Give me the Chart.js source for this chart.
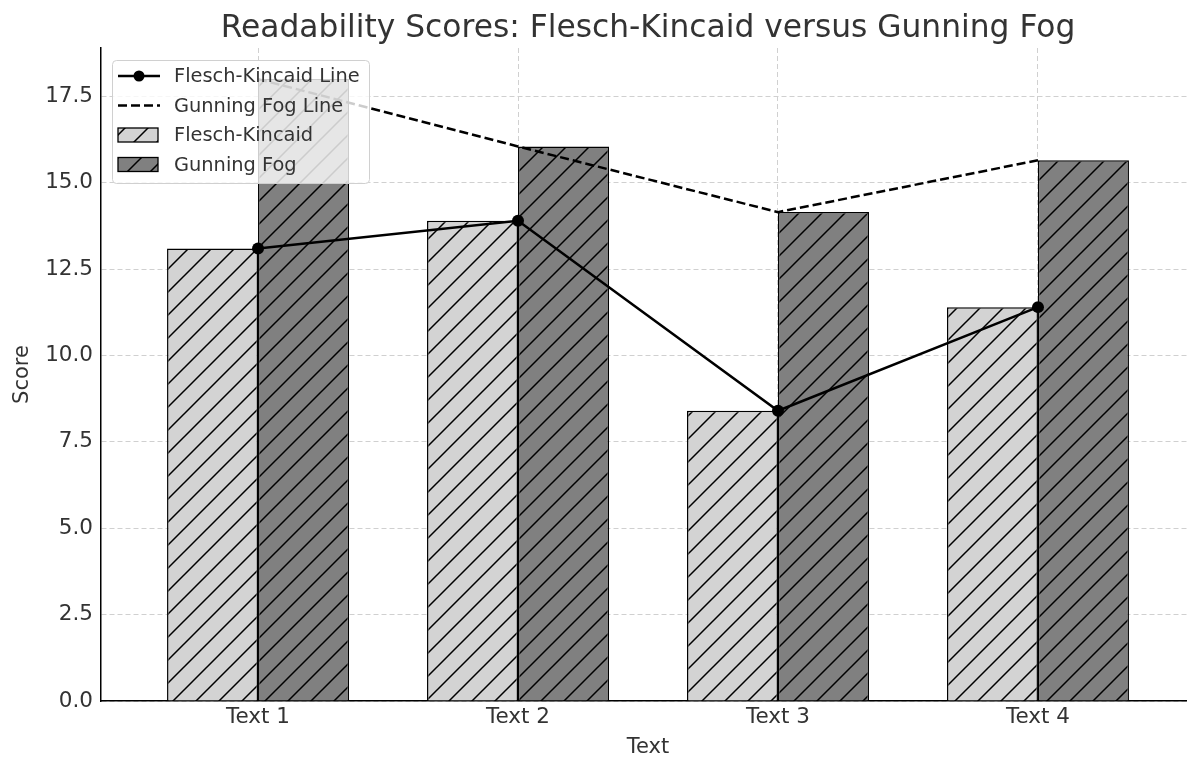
<!DOCTYPE html>
<html>
<head>
<meta charset="utf-8">
<script src="https://cdn.jsdelivr.net/npm/chart.js@4"></script>
<style>
  body { margin: 0; background: #fff; overflow: hidden; }
  canvas { display: block; }
</style>
</head>
<body>
<!-- el lienzo es un poco mas ancho que la ventana: el eje derecho queda recortado como en la figura original -->
<canvas id="grafico" width="1195" height="758"></canvas>
<script>
const textos = ['Text 1', 'Text 2', 'Text 3', 'Text 4'];
const fleschKincaid = [13.1, 13.9, 8.4, 11.4];
const gunningFog = [18.0, 16.05, 14.15, 15.65];
const yTicks = [0, 2.5, 5, 7.5, 10, 12.5, 15, 17.5];

const FONT = 'DejaVu Sans';
const TXT = '#333';
const TITULO = 'Readability Scores: Flesch-Kincaid versus Gunning Fog';

// patron de rayado "/" para las barras
function rayado(fondo) {
  const s = 23;
  const c = document.createElement('canvas');
  c.width = c.height = s;
  const g = c.getContext('2d');
  g.fillStyle = fondo;
  g.fillRect(0, 0, s, s);
  g.strokeStyle = '#000';
  g.lineWidth = 1.5;
  g.beginPath();
  g.moveTo(0, s); g.lineTo(s, 0);
  g.moveTo(-s / 2, s / 2); g.lineTo(s / 2, -s / 2);
  g.moveTo(s / 2, s * 1.5); g.lineTo(s * 1.5, s / 2);
  g.stroke();
  return g.createPattern(c, 'repeat');
}

const ctx = document.getElementById('grafico');
const patFK = rayado('#d3d3d3');
const patGF = rayado('#808080');

const xy = arr => arr.map((v, i) => ({ x: i, y: v }));

// titulo centrado sobre el area de ejes (como matplotlib)
const titulo = {
  id: 'titulo',
  afterDraw(chart) {
    const g = chart.ctx;
    const a = chart.chartArea;
    g.save();
    g.font = '31.3px "' + FONT + '"';
    g.fillStyle = TXT;
    g.textAlign = 'center';
    g.textBaseline = 'alphabetic';
    g.fillText(TITULO, (a.left + a.right) / 2, 37);
    g.restore();
  }
};

// leyenda dentro del area del grafico, arriba a la izquierda
const leyenda = {
  id: 'leyenda',
  afterDraw(chart) {
    const g = chart.ctx;
    const a = chart.chartArea;
    const x0 = a.left + 11, y0 = a.top + 12;
    const w = 257, h = 123;
    g.save();
    g.fillStyle = 'rgba(255,255,255,0.8)';
    g.strokeStyle = '#d0d0d0';
    g.lineWidth = 1;
    g.beginPath();
    g.roundRect(x0 + 0.5, y0 + 0.5, w, h, 4);
    g.fill();
    g.stroke();

    const items = [
      { label: 'Flesch-Kincaid Line', tipo: 'punto' },
      { label: 'Gunning Fog Line', tipo: 'guion' },
      { label: 'Flesch-Kincaid', tipo: 'barra', fill: patFK },
      { label: 'Gunning Fog', tipo: 'barra', fill: patGF }
    ];
    g.font = '19.4px "' + FONT + '"';
    g.textBaseline = 'middle';
    items.forEach((it, i) => {
      const cy = y0 + 16 + i * 29.5;
      const hx = x0 + 6;
      g.strokeStyle = '#000';
      g.fillStyle = '#000';
      if (it.tipo === 'punto') {
        g.lineWidth = 2.5;
        g.setLineDash([]);
        g.beginPath(); g.moveTo(hx, cy); g.lineTo(hx + 42, cy); g.stroke();
        g.beginPath(); g.arc(hx + 21, cy, 5.5, 0, Math.PI * 2); g.fill();
      } else if (it.tipo === 'guion') {
        g.lineWidth = 2.5;
        g.setLineDash([9, 4]);
        g.beginPath(); g.moveTo(hx, cy); g.lineTo(hx + 42, cy); g.stroke();
        g.setLineDash([]);
      } else {
        g.fillStyle = it.fill;
        g.fillRect(hx, cy - 7, 40, 14);
        g.lineWidth = 1.3;
        g.strokeRect(hx, cy - 7, 40, 14);
      }
      g.fillStyle = TXT;
      g.fillText(it.label, x0 + 62, cy + 1);
    });
    g.restore();
  }
};

const chart = new Chart(ctx, {
  data: {
    datasets: [
      {
        type: 'line',
        label: 'Flesch-Kincaid Line',
        data: xy(fleschKincaid),
        borderColor: '#000',
        backgroundColor: '#000',
        borderWidth: 2.5,
        pointRadius: 6,
        pointBorderWidth: 0,
        tension: 0
      },
      {
        type: 'line',
        label: 'Gunning Fog Line',
        data: xy(gunningFog),
        borderColor: '#000',
        borderWidth: 2.5,
        borderDash: [9, 4],
        pointRadius: 0,
        tension: 0
      },
      {
        type: 'bar',
        label: 'Flesch-Kincaid',
        data: xy(fleschKincaid),
        backgroundColor: patFK,
        borderColor: '#000',
        borderWidth: 1.5,
        categoryPercentage: 0.7,
        barPercentage: 1.0
      },
      {
        type: 'bar',
        label: 'Gunning Fog',
        data: xy(gunningFog),
        backgroundColor: patGF,
        borderColor: '#000',
        borderWidth: 1.5,
        categoryPercentage: 0.7,
        barPercentage: 1.0
      }
    ]
  },
  options: {
    responsive: false,
    animation: false,
    layout: { autoPadding: false, padding: { top: 48, right: 0, left: 0, bottom: 0 } },
    plugins: {
      legend: { display: false },
      tooltip: { enabled: false },
      title: { display: false }
    },
    scales: {
      x: {
        type: 'linear',
        min: -0.604,
        max: 3.604,
        offset: false,
        afterBuildTicks: s => { s.ticks = textos.map((t, i) => ({ value: i })); },
        afterFit: s => { s.height = 57; },
        ticks: {
          callback: v => textos[v],
          color: TXT,
          font: { family: FONT, size: 21.5 },
          padding: 4,
          maxRotation: 0,
          autoSkip: false
        },
        grid: { color: '#d0d0d0', lineWidth: 1, drawTicks: false, offset: false },
        border: { color: '#000', width: 1.5, dash: [5, 3] },
        title: {
          display: true,
          text: 'Text',
          color: TXT,
          font: { family: FONT, size: 21, lineHeight: 1 },
          padding: { top: 0, bottom: 0 }
        }
      },
      y: {
        min: 0,
        max: 18.9,
        afterBuildTicks: s => { s.ticks = yTicks.map(v => ({ value: v })); },
        afterFit: s => { s.width = 101; },
        ticks: {
          callback: v => v.toFixed(1),
          color: TXT,
          font: { family: FONT, size: 21.5 },
          padding: 8
        },
        grid: { color: '#d0d0d0', lineWidth: 1, drawTicks: false },
        border: { color: '#000', width: 1.5, dash: [5, 3] },
        title: {
          display: true,
          text: 'Score',
          color: TXT,
          font: { family: FONT, size: 21, lineHeight: 1.2 },
          padding: { top: 10, bottom: 0 }
        }
      }
    }
  },
  plugins: [titulo, leyenda]
});
</script>
</body>
</html>
